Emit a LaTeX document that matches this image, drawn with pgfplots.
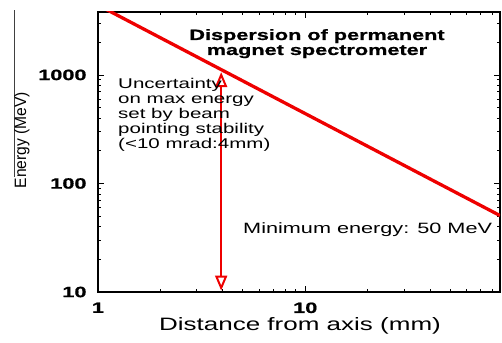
\documentclass[border=0pt]{standalone}
\usepackage{fontspec}
\setmainfont[FakeStretch=1.45, BoldFeatures={FakeBold=1}]{Liberation Sans}
\usepackage{pgfplots}
\pgfplotsset{compat=1.18}
\usetikzlibrary{arrows.meta}
\definecolor{lred}{RGB}{238,0,0}
\begin{document}
\begin{tikzpicture}
\begin{loglogaxis}[
  scale only axis,
  width=402bp, height=280bp,
  xmin=1, xmax=87, ymin=10, ymax=3800,
  xtick={1,10}, xticklabels={1,10},
  ytick={10,100,1000}, yticklabels={10,100,1000},
  minor xtick={2,3,4,5,6,7,8,9,20,30,40,50,60,70,80},
  minor ytick={20,30,40,50,60,70,80,90,200,300,400,500,600,700,800,900,2000,3000},
  tick align=inside,
  major tick length=6bp, minor tick length=3.5bp,
  axis line style={line width=1.3bp},
  every tick/.style={black, line width=0.8bp},
  /pgf/number format/assume math mode=true,
  ticklabel style={font=\bfseries\fontsize{15}{15}\selectfont},
  yticklabel style={xshift=-8bp},
  xticklabel style={yshift=-7bp},
]
\addplot[lred, line width=3.3bp] coordinates {(1,4400) (2,2200) (4,1100) (10,440) (20,220) (40,110) (87,50.6)};
\addplot[lred, line width=2bp, {Triangle[open,length=15bp,width=12bp]}-{Triangle[open,length=15bp,width=12bp]}] coordinates {(3.93,10.3) (3.93,1060)};
\coordinate (SW) at (rel axis cs:0,0);
\end{loglogaxis}
\draw[black!75, line width=0.8bp] ([shift={(-84bp,115bp)}]SW) -- ([shift={(-84bp,282bp)}]SW);
\node at ([shift={(-76bp,152bp)}]SW) {\rotatebox{90}{\scalebox{0.655}[1]{\fontsize{16.5}{18}\selectfont Energy (MeV)}}};
\begin{scope}[every node/.style={inner sep=0pt}]
\node[anchor=base, font=\bfseries\fontsize{15}{15}\selectfont] at ([shift={(219bp,252bp)}]SW) {Dispersion of permanent};
\node[anchor=base, font=\bfseries\fontsize{15}{15}\selectfont] at ([shift={(219bp,237bp)}]SW) {magnet spectrometer};
\node[anchor=base west, font=\fontsize{14.2}{15}\selectfont] at ([shift={(20bp,203bp)}]SW) {Uncertainty};
\node[anchor=base west, font=\fontsize{14.2}{15}\selectfont] at ([shift={(20bp,188bp)}]SW) {on max energy};
\node[anchor=base west, font=\fontsize{14.2}{15}\selectfont] at ([shift={(20bp,173bp)}]SW) {set by beam};
\node[anchor=base west, font=\fontsize{14.2}{15}\selectfont] at ([shift={(20bp,158bp)}]SW) {pointing stability};
\node[anchor=base west, font=\fontsize{14.2}{15}\selectfont] at ([shift={(20bp,143bp)}]SW) {(<10 mrad:4mm)};
\node[anchor=base west, font=\fontsize{15}{15}\selectfont] at ([shift={(145bp,58bp)}]SW) {Minimum energy: 50 MeV};
\node[anchor=base, font=\fontsize{18}{18}\selectfont] at ([shift={(202bp,-38bp)}]SW) {Distance from axis (mm)};
\end{scope}
\pgfresetboundingbox
\path ([shift={(-98bp,-51bp)}]SW) rectangle ([shift={(404bp,292bp)}]SW);
\end{tikzpicture}
\end{document}
